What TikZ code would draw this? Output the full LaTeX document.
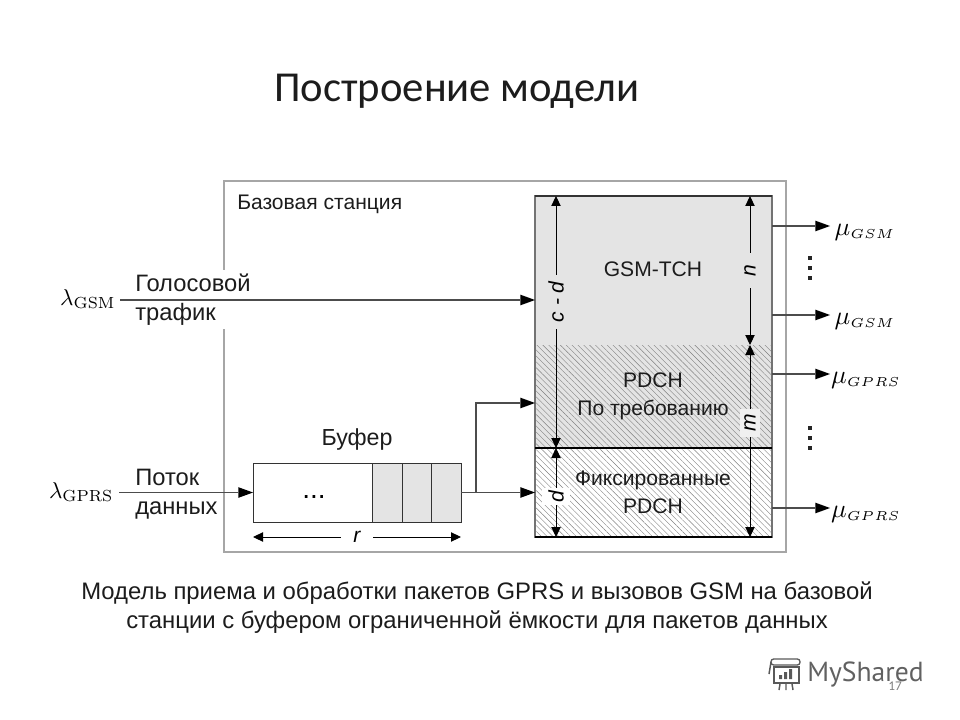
\documentclass[tikz,border=0pt]{standalone}
\usepackage[no-math]{fontspec}
\setmainfont{Liberation Sans}
\newfontfamily\titlefont{Carlito}
\newfontfamily\logofont{PT Sans}
\usetikzlibrary{arrows.meta,patterns.meta,positioning}
\definecolor{chgray}{HTML}{E4E4E4}
\definecolor{txtgray}{HTML}{1C1C1C}
\begin{document}
\begin{tikzpicture}
        [x = .75pt, y = -.75pt,
            big arrow/.style = {-{Stealth[length=11pt,width=8pt,inset=0pt,fill=black,line width=0pt]}, line width=.8pt, draw=black!70},
            dim arrow/.style = {{Stealth[length=7.5pt,width=7pt,inset=0pt]}-{Stealth[length=7.5pt,width=7pt,inset=0pt]}, line width=.7pt},
            box node/.style = {inner sep=0pt, outer sep=0pt},
            cell node/.style = {box node, draw=black!80, line width=.6pt, fill=chgray, minimum height=44.25pt},
            dot node/.style = {box node, fill=black!85, minimum size=2.6pt},
            label node/.style = {inner sep=0pt, text=txtgray, font=\fontsize{15.8}{21}\selectfont, align=center},
            side node/.style = {label node, align=left, font=\fontsize{17.8}{21.6}\selectfont},
            dim node/.style = {inner sep=2pt, font=\fontsize{15.8}{18}\selectfont\itshape},
            lambda node/.style = {inner sep=0pt, scale=1.72},
            mu node/.style = {inner sep=0pt, scale=1.95},
            hatch node/.style = {box node, pattern={Lines[angle=-45,distance=3.1pt,line width=.3pt]}, pattern color=black!50}]

        \useasboundingbox (0,0) rectangle (960,720);

        \node[inner sep=0pt, text=txtgray, font=\fontsize{32}{38}\selectfont\titlefont] (title) at (457,91) {Построение модели};

        \node[box node, draw=black!35, line width=1.1pt, minimum width=421.5pt, minimum height=278.25pt] (station) at (505,366.5) {};
        \node[label node, anchor=west] (stationlabel) at (237,204) {Базовая станция};

        \node[box node, fill=chgray, minimum width=177.75pt, minimum height=111.75pt] (tch) at (653.5,270.5) {};
        \node[label node] (tchlabel) at (653,269) {GSM-TCH};
        \node[hatch node, preaction={fill=chgray}, minimum width=177.75pt, minimum height=77.25pt] (pdch) at (653.5,396.5) {};
        \node[label node] (pdchlabel) at (653,396) {PDCH\\По требованию};
        \node[hatch node, preaction={fill=white}, minimum width=177.75pt, minimum height=66.75pt] (fixed) at (653.5,492.5) {};
        \node[label node] (fixedlabel) at (653,492) {Фиксированные\\PDCH};
        \node[box node, draw=black!55, line width=1.3pt, minimum width=177.75pt, minimum height=255.75pt] (chan) at (653.5,366.5) {};
        \draw[line width=.9pt] (fixed.north west) -- (fixed.north east);
        \draw[line width=.9pt] (fixed.south west) -- (fixed.south east);
        \draw[line width=.9pt, black!80] (tch.north west) -- (tch.north east);

        \node[cell node, fill=white, minimum width=156pt] (buf) at (357,492.5) {};
        \node[cell node, minimum width=22.5pt] (cella) at (387,492.5) {};
        \node[cell node, minimum width=21.75pt, right=0pt of cella] (cellb) {};
        \node[cell node, minimum width=22.5pt, right=0pt of cellb] (cellc) {};
        \node[inner sep=0pt, font=\fontsize{21}{21}\selectfont] (bufdots) at (314,497) {...};
        \node[label node, above=9pt of buf, font=\fontsize{17.4}{21}\selectfont] (buflabel) {Буфер};

        \node[box node, fill=white, minimum width=88pt, minimum height=44.25pt] (voice) at (193.5,299.5) {};
        \node[side node, anchor=west] (voicelabel) at (135,300) {Голосовой\\трафик};
        \node[side node, anchor=west] (datalabel) at (135,494) {Поток\\данных};

        \node[lambda node, anchor=east] (lamgsm) at (116,299) {$\lambda_{\mathrm{GSM}}$};
        \node[lambda node, anchor=east] (lamgprs) at (114,492) {$\lambda_{\mathrm{GPRS}}$};

        \coordinate (tchin) at (535,300);
        \coordinate (pdchin) at (535,403);
        \coordinate (fixedin) at (535,492.5);
        \coordinate (split) at (476,492.5);

        \draw[big arrow] ([xshift=3pt]lamgsm.east |- tchin) -- (tchin);
        \draw[big arrow] ([xshift=4pt]lamgprs.east |- buf.west) -- (buf.west);
        \draw[big arrow] (buf.east) -- (fixedin);
        \draw[big arrow] (split) |- (pdchin);

        \coordinate (outa) at (830,226);
        \coordinate (outb) at (830,315);
        \coordinate (outc) at (830,374);
        \coordinate (outd) at (830,508);
        \draw[big arrow] (chan.east |- outa) -- (outa);
        \draw[big arrow] (chan.east |- outb) -- (outb);
        \draw[big arrow] (chan.east |- outc) -- (outc);
        \draw[big arrow] (chan.east |- outd) -- (outd);

        \node[mu node] (mua) at (865,232) {$\mu_{\scriptscriptstyle GSM}$};
        \node[mu node] (mub) at (865,321) {$\mu_{\scriptscriptstyle GSM}$};
        \node[mu node] (muc) at (866,380) {$\mu_{\scriptscriptstyle GPRS}$};
        \node[mu node] (mud) at (866,514) {$\mu_{\scriptscriptstyle GPRS}$};

        \node[dot node] (dotsaa) at (810,258) {};
        \node[dot node] (dotsab) at (810,268) {};
        \node[dot node] (dotsac) at (810,278) {};
        \node[dot node] (dotsba) at (810,428) {};
        \node[dot node] (dotsbb) at (810,438) {};
        \node[dot node] (dotsbc) at (810,448) {};

        \coordinate (cdtop) at (556,196);
        \coordinate (cdbot) at (556,448);
        \coordinate (dbot) at (556,537);
        \coordinate (ntop) at (750,196);
        \coordinate (nbot) at (750,345);
        \coordinate (mbot) at (750,537);
        \coordinate (rleft) at (253,537);
        \coordinate (rright) at (461,537);

        \path[dim arrow]
        (cdbot) edge node[dim node, rotate=90, fill=chgray, pos=.58, inner xsep=5pt] (cdlabel) {c - d} (cdtop)
        (cdbot) edge node[dim node, rotate=90, fill=white, pos=.55, inner ysep=5pt] (dlabel) {d} (dbot)
        (nbot) edge node[dim node, rotate=90, fill=chgray, pos=.5, inner xsep=9pt] (nlabel) {n} (ntop)
        (nbot) edge node[dim node, rotate=90, fill=black!6, pos=.406, inner xsep=4pt, inner ysep=3pt] (mlabel) {m} (mbot)
        (rleft) edge node[dim node, fill=white, inner xsep=9pt] (rlabel) {r} (rright);

        \node[label node, font=\fontsize{17.9}{21.75}\selectfont] (caption) at (477,608) {Модель приема и обработки пакетов GPRS и вызовов GSM на базовой\\станции с буфером ограниченной ёмкости для пакетов данных};

        \draw[black!65, line width=1.1pt] (774,667) rectangle (799,683);
        \draw[black!65, line width=1pt, rounded corners=2pt] (771,659) rectangle (800,665);
        \draw[black!65, line width=1.1pt] (771,662) -- (769,674);
        \fill[black!65] (779,675) rectangle (782,679) (784,672) rectangle (787,679) (789,669) rectangle (792,679);
        \draw[black!65, line width=1.1pt] (780,684) -- (779,690) (786,684) -- (786,690) (792,684) -- (793,690);
        \node[inner sep=0pt, anchor=west, text=black!62, font=\fontsize{20.7}{24}\selectfont\logofont] (logo) at (807,674) {MyShared};
        \node[inner sep=0pt, text=black!50, font=\fontsize{10}{12}\selectfont\titlefont] (pagenum) at (895,686) {17};
    \end{tikzpicture}
\end{document}
